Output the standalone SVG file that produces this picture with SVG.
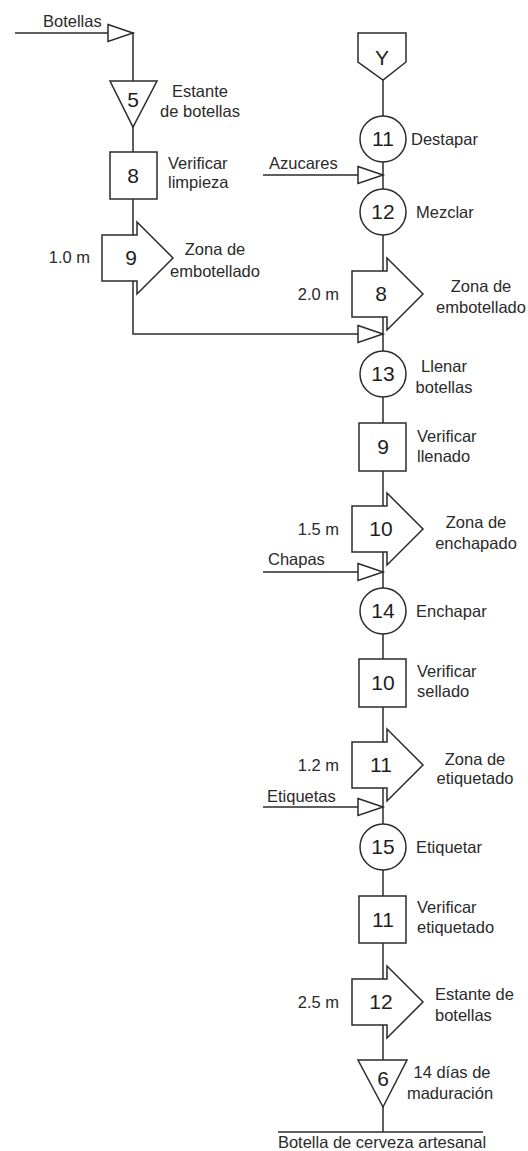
<svg xmlns="http://www.w3.org/2000/svg" width="528" height="1151" viewBox="0 0 528 1151">
<style>
.ln{stroke:#2b2b2b;stroke-width:1.5;fill:none}
.sh{stroke:#2b2b2b;stroke-width:1.5;fill:#fff}
.num{font-family:"Liberation Sans",Arial,sans-serif;font-size:21px;fill:#1e1e1e;text-anchor:middle}
.lb{font-family:"Liberation Sans",Arial,sans-serif;font-size:16.5px;fill:#2a2a2a}
.m{text-anchor:middle}
.e{text-anchor:end}
</style>
<defs>
<path id="tri-in" d="M-25,-8.5 L0,0 L-25,8.5 Z"/>
<path id="arr" d="M-31,-23 L4,-23 L4,-36 L40,0 L4,36 L4,23 L-31,23 Z"/>
</defs>
<rect width="528" height="1151" fill="#fff"/>
<g id="connectors">
<path class="ln" d="M15,33 H133 V81"/>
<path class="ln" d="M133,127 V152 M133,199 V235 M133,281 V334 H383"/>
<path class="ln" d="M383,80 V1132"/>
<path class="ln" d="M263,175 H383 M263,572 H383 M263,807 H383"/>
<path class="ln" d="M278,1132 H483"/>
<use href="#tri-in" class="sh" x="133" y="33"/>
<use href="#tri-in" class="sh" x="383" y="175"/>
<use href="#tri-in" class="sh" x="383" y="334"/>
<use href="#tri-in" class="sh" x="383" y="572"/>
<use href="#tri-in" class="sh" x="383" y="807"/>
<text class="lb" x="43" y="27">Botellas</text>
<text class="lb" x="269" y="169">Azucares</text>
<text class="lb" x="268" y="565">Chapas</text>
<text class="lb" x="267" y="802">Etiquetas</text>
<text class="lb m" x="382" y="1148">Botella de cerveza artesanal</text>
</g>
<g id="n-store5">
<path class="sh" d="M110,81 H157 L133,127 Z"/>
<text class="num" x="133" y="107">5</text>
<text class="lb m" x="200" y="97">Estante</text>
<text class="lb m" x="200" y="117">de botellas</text>
</g>
<g id="n-insp8">
<rect class="sh" x="110" y="152" width="47" height="47"/>
<text class="num" x="133" y="183">8</text>
<text class="lb" x="168" y="169">Verificar</text>
<text class="lb" x="168" y="188">limpieza</text>
</g>
<g id="n-trans9">
<use href="#arr" class="sh" x="133" y="258"/>
<text class="num" x="131" y="265">9</text>
<text class="lb e" x="90" y="263">1.0 m</text>
<text class="lb m" x="215" y="255">Zona de</text>
<text class="lb m" x="215" y="277">embotellado</text>
</g>
<g id="n-Y">
<path class="sh" d="M358,33 H406 V62 L383,80 L358,62 Z"/>
<text class="num" x="382" y="65">Y</text>
</g>
<g id="n-op11">
<circle class="sh" cx="383" cy="139" r="23"/>
<text class="num" x="383" y="146">11</text>
<text class="lb" x="411" y="145">Destapar</text>
</g>
<g id="n-op12">
<circle class="sh" cx="383" cy="212" r="23"/>
<text class="num" x="383" y="219">12</text>
<text class="lb" x="416" y="218">Mezclar</text>
</g>
<g id="n-trans8">
<use href="#arr" class="sh" x="383" y="294"/>
<text class="num" x="381" y="301">8</text>
<text class="lb e" x="339" y="300">2.0 m</text>
<text class="lb m" x="481" y="292">Zona de</text>
<text class="lb m" x="481" y="313">embotellado</text>
</g>
<g id="n-op13">
<circle class="sh" cx="383" cy="374" r="23"/>
<text class="num" x="383" y="381">13</text>
<text class="lb m" x="444" y="372">Llenar</text>
<text class="lb m" x="444" y="393">botellas</text>
</g>
<g id="n-insp9">
<rect class="sh" x="359" y="423" width="47" height="48"/>
<text class="num" x="383" y="454">9</text>
<text class="lb" x="417" y="442">Verificar</text>
<text class="lb" x="417" y="462">llenado</text>
</g>
<g id="n-trans10">
<use href="#arr" class="sh" x="383" y="529"/>
<text class="num" x="381" y="536">10</text>
<text class="lb e" x="339" y="535">1.5 m</text>
<text class="lb m" x="476" y="528">Zona de</text>
<text class="lb m" x="476" y="549">enchapado</text>
</g>
<g id="n-op14">
<circle class="sh" cx="383" cy="611" r="23"/>
<text class="num" x="383" y="618">14</text>
<text class="lb" x="416" y="617">Enchapar</text>
</g>
<g id="n-insp10">
<rect class="sh" x="359" y="659" width="47" height="48"/>
<text class="num" x="383" y="690">10</text>
<text class="lb" x="417" y="677">Verificar</text>
<text class="lb" x="417" y="697">sellado</text>
</g>
<g id="n-trans11">
<use href="#arr" class="sh" x="383" y="765"/>
<text class="num" x="381" y="772">11</text>
<text class="lb e" x="339" y="771">1.2 m</text>
<text class="lb m" x="475" y="765">Zona de</text>
<text class="lb m" x="475" y="784">etiquetado</text>
</g>
<g id="n-op15">
<circle class="sh" cx="383" cy="847" r="23"/>
<text class="num" x="383" y="854">15</text>
<text class="lb" x="416" y="853">Etiquetar</text>
</g>
<g id="n-insp11">
<rect class="sh" x="359" y="896" width="47" height="47"/>
<text class="num" x="383" y="927">11</text>
<text class="lb" x="417" y="913">Verificar</text>
<text class="lb" x="417" y="933">etiquetado</text>
</g>
<g id="n-trans12">
<use href="#arr" class="sh" x="383" y="1002"/>
<text class="num" x="381" y="1009">12</text>
<text class="lb e" x="339" y="1008">2.5 m</text>
<text class="lb" x="435" y="1000">Estante de</text>
<text class="lb" x="435" y="1021">botellas</text>
</g>
<g id="n-store6">
<path class="sh" d="M358,1060 H407 L383,1107 Z"/>
<text class="num" x="383" y="1086">6</text>
<text class="lb m" x="452" y="1078">14 días de</text>
<text class="lb m" x="450" y="1099">maduración</text>
</g>
</svg>
